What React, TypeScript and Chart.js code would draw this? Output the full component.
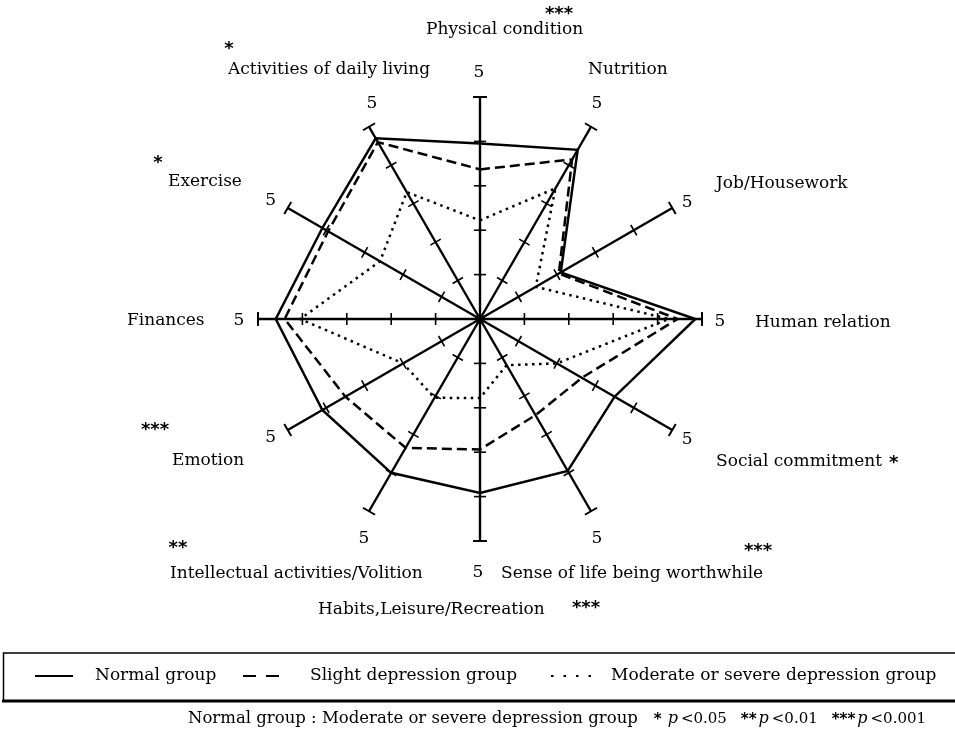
import React, { useEffect, useRef } from "react";
import { Chart, registerables } from "chart.js";

Chart.register(...registerables);

// ---------- data ----------
const categories = [
  "Physical condition",
  "Nutrition",
  "Job/Housework",
  "Human relation",
  "Social commitment",
  "Sense of life being worthwhile",
  "Habits,Leisure/Recreation",
  "Intellectual activities/Volition",
  "Emotion",
  "Finances",
  "Exercise",
  "Activities of daily living",
];
const normalGroup = [3.95, 4.4, 2.1, 4.85, 3.5, 3.95, 3.92, 4.0, 4.1, 4.6, 4.1, 4.7];
const slightGroup = [3.37, 4.15, 2.05, 4.45, 2.65, 2.5, 2.94, 3.35, 3.5, 4.4, 3.95, 4.6];
const moderateGroup = [2.22, 3.4, 1.45, 4.25, 2.0, 1.2, 1.78, 2.05, 2.0, 4.05, 2.6, 3.3];
const significance = ["***", "", "", "", "*", "***", "***", "**", "***", "", "*", "*"];
const seriesNames = ["Normal group", "Slight depression group", "Moderate or severe depression group"];
const tickValues = [1, 2, 3, 4, 5];
const axisMin = 0;
const axisMax = 5;
const noteLead = "Normal group : Moderate or severe depression group";
const noteLevels = [
  { stars: "*", p: "<0.05" },
  { stars: "**", p: "<0.01" },
  { stars: "***", p: "<0.001" },
];

// ---------- layout / style ----------
const SERIF = '"DejaVu Serif", "Liberation Serif", serif';
const STAR_FONT = 'bold 18px "DejaVu Sans", sans-serif';
const LABEL_FONT = `17px ${SERIF}`;
// label left / middle positions, offsets from chart centre
const labelOffsets: [number, number][] = [
  [-54, -289],
  [108, -249],
  [236, -135],
  [275, 4],
  [236, 143],
  [21, 255],
  [-162, 291],
  [-310, 255],
  [-308, 142],
  [-353, 2],
  [-312, -137],
  [-252, -249],
];
// star positions (centre), offsets from chart centre; null => right after label
const starOffsets: ([number, number] | null)[] = [
  [79, -305],
  null,
  null,
  null,
  null,
  [278, 232],
  [106, 289],
  [-302, 229],
  [-325, 111],
  null,
  [-322, -156],
  [-251, -270],
];
// "5" labels, offsets from each axis end
const maxLabelOffsets: [number, number][] = [
  [-1, -24],
  [6, -23],
  [15, -5],
  [18, 3],
  [15, 10],
  [6, 27],
  [-2, 32],
  [-5, 27],
  [-17, 8],
  [-19, 2],
  [-17, -7],
  [3, -23],
];
const dashes = [[], [10, 5], [2.5, 4.5]];
const legendDashes = [[], [13, 10], [2.5, 10]];
const legendSamples = [
  [35, 73],
  [243, 283],
  [551, 600],
];
const legendTextX = [95, 310, 611];

const overlayPlugin = {
  id: "overlay",
  afterDatasetsDraw(chart: any) {
    const ctx: CanvasRenderingContext2D = chart.ctx;
    const r = chart.scales.r;
    const cx = r.xCenter;
    const cy = r.yCenter;
    const n = chart.data.labels.length;
    ctx.save();
    ctx.strokeStyle = "#000";
    ctx.fillStyle = "#000";
    ctx.setLineDash([]);

    // tick marks on each axis
    for (let i = 0; i < n; i++) {
      for (const v of tickValues) {
        const d = r.getDistanceFromCenterForValue(v);
        const p = r.getPointPosition(i, d);
        const nx = -Math.sin(p.angle);
        const ny = Math.cos(p.angle);
        const half = v === axisMax ? 7 : 6;
        ctx.lineWidth = v === axisMax ? 2 : 1.6;
        ctx.beginPath();
        ctx.moveTo(p.x - nx * half, p.y - ny * half);
        ctx.lineTo(p.x + nx * half, p.y + ny * half);
        ctx.stroke();
      }
    }
    // centre hub
    ctx.beginPath();
    ctx.arc(cx, cy, 4.5, 0, Math.PI * 2);
    ctx.fill();

    // "5" at axis ends
    ctx.font = LABEL_FONT;
    ctx.textAlign = "center";
    ctx.textBaseline = "middle";
    for (let i = 0; i < n; i++) {
      const p = r.getPointPosition(i, r.getDistanceFromCenterForValue(axisMax));
      const [ox, oy] = maxLabelOffsets[i];
      ctx.fillText(String(axisMax), p.x + ox, p.y + oy);
    }

    // category labels + significance stars
    for (let i = 0; i < n; i++) {
      const [ox, oy] = labelOffsets[i];
      const x = cx + ox;
      const y = cy + oy;
      ctx.font = LABEL_FONT;
      ctx.textAlign = "left";
      ctx.textBaseline = "middle";
      const label = String(chart.data.labels[i]);
      ctx.fillText(label, x, y);
      const stars = significance[i];
      if (stars) {
        ctx.font = STAR_FONT;
        ctx.textAlign = "center";
        const so = starOffsets[i];
        if (so) {
          ctx.fillText(stars, cx + so[0], cy + so[1]);
        } else {
          ctx.font = LABEL_FONT;
          const w = ctx.measureText(label).width;
          ctx.font = STAR_FONT;
          ctx.textAlign = "left";
          ctx.fillText(stars, x + w + 7, y + 1);
        }
      }
    }

    // legend box
    ctx.lineWidth = 1.5;
    ctx.beginPath();
    ctx.moveTo(960, 653);
    ctx.lineTo(3.5, 653);
    ctx.lineTo(3.5, 701);
    ctx.stroke();
    ctx.lineWidth = 3;
    ctx.beginPath();
    ctx.moveTo(2, 701);
    ctx.lineTo(960, 701);
    ctx.stroke();

    const ly = 676;
    chart.data.datasets.forEach((ds: any, k: number) => {
      ctx.lineWidth = 2;
      ctx.setLineDash(legendDashes[k]);
      ctx.beginPath();
      ctx.moveTo(legendSamples[k][0], ly);
      ctx.lineTo(legendSamples[k][1], ly);
      ctx.stroke();
      ctx.setLineDash([]);
      ctx.font = LABEL_FONT;
      ctx.textAlign = "left";
      ctx.textBaseline = "middle";
      ctx.fillText(ds.label, legendTextX[k], ly);
    });

    // significance note
    const nyPos = 719;
    let x = 188;
    ctx.font = `16.5px ${SERIF}`;
    ctx.textAlign = "left";
    ctx.fillText(noteLead, x, nyPos);
    x += ctx.measureText(noteLead).width + 16;
    noteLevels.forEach((lv) => {
      ctx.font = 'bold 15px "DejaVu Sans", sans-serif';
      ctx.fillText(lv.stars, x, nyPos + 1);
      x += ctx.measureText(lv.stars).width + (lv.stars.length === 1 ? 6 : 2);
      ctx.font = `italic 16px ${SERIF}`;
      ctx.fillText("p", x, nyPos);
      x += ctx.measureText("p").width + 3;
      ctx.font = `15px ${SERIF}`;
      ctx.fillText(lv.p, x, nyPos);
      x += ctx.measureText(lv.p).width + 14;
    });
    ctx.restore();
  },
};

export default function App() {
  const ref = useRef<HTMLCanvasElement>(null);
  useEffect(() => {
    const series = [normalGroup, slightGroup, moderateGroup];
    const chart = new Chart(ref.current as HTMLCanvasElement, {
      type: "radar",
      data: {
        labels: categories,
        datasets: series.map((values, k) => ({
          label: seriesNames[k],
          data: values,
          borderColor: "#000",
          backgroundColor: "transparent",
          borderWidth: 2.5,
          borderDash: dashes[k],
          fill: false,
          pointRadius: 0,
          tension: 0,
        })),
      },
      options: {
        animation: false,
        responsive: false,
        maintainAspectRatio: false,
        layout: { padding: { left: 258, right: 253, top: 97, bottom: 196 } },
        plugins: { legend: { display: false }, tooltip: { enabled: false } },
        scales: {
          r: {
            min: axisMin,
            max: axisMax,
            ticks: { display: false, stepSize: 1 },
            grid: { display: false },
            angleLines: { display: true, color: "#000", lineWidth: 2.4 },
            pointLabels: { display: false },
          },
        },
      },
      plugins: [overlayPlugin],
    });
    return () => chart.destroy();
  }, []);
  return (
    <div style={{ position: "absolute", left: 0, top: 0, width: 955, height: 737, background: "#fff" }}>
      <canvas ref={ref} width={955} height={737} style={{ display: "block", width: 955, height: 737 }} />
    </div>
  );
}
